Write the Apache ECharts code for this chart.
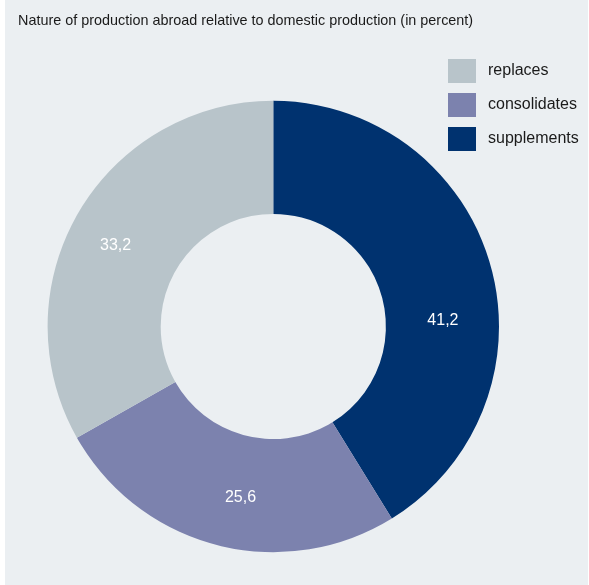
<!DOCTYPE html>
<html>
<head>
<meta charset="utf-8">
<script src="https://cdn.jsdelivr.net/npm/echarts@6/dist/echarts.min.js"></script>
<style>
html,body{margin:0;padding:0;background:#ffffff;}
#chart{width:589px;height:585px;}
</style>
</head>
<body>
<div id="chart"></div>
<script>
const titleText = 'Nature of production abroad relative to domestic production (in percent)';
const categories = ['supplements', 'consolidates', 'replaces'];
const values = [41.2, 25.6, 33.2];
const legendOrder = ['replaces', 'consolidates', 'supplements'];
const colors = ['#00326f', '#7c82ae', '#b8c4ca'];
const labelShift = [[4, 41], [10, 4], [-9, 6]];

const chart = echarts.init(document.getElementById('chart'), null, {renderer: 'canvas'});
const font = '"Liberation Sans", Arial, Helvetica, sans-serif';
chart.setOption({
  animation: false,
  backgroundColor: '#ffffff',
  graphic: [{
    type: 'rect', z: -10, silent: true,
    shape: {x: 5, y: 0, width: 583, height: 585},
    style: {fill: '#ebeff2'}
  }],
  title: {
    text: titleText,
    left: 18, top: 14, padding: 0,
    textStyle: {fontFamily: font, fontSize: 14.4, fontWeight: 'normal', color: '#1a1a1a'}
  },
  legend: {
    data: legendOrder,
    orient: 'vertical',
    left: 448, top: 59, padding: 0,
    itemWidth: 28, itemHeight: 24, itemGap: 10,
    icon: 'rect',
    textStyle: {fontFamily: font, fontSize: 16, color: '#1a1a1a', padding: [3, 0, 0, 7]}
  },
  series: [{
    type: 'pie',
    center: [273.3, 326.5],
    radius: [112.6, 225.7],
    startAngle: 90,
    clockwise: true,
    avoidLabelOverlap: false,
    label: {
      show: true, position: 'inside',
      formatter: p => String(p.value).replace('.', ','),
      fontFamily: font, fontSize: 16, color: '#ffffff'
    },
    labelLine: {show: false},
    labelLayout: p => ({dx: labelShift[p.dataIndex][0], dy: labelShift[p.dataIndex][1]}),
    emphasis: {disabled: true},
    itemStyle: {borderWidth: 0},
    data: categories.map((c, i) => ({name: c, value: values[i], itemStyle: {color: colors[i]}}))
  }]
});
</script>
</body>
</html>
